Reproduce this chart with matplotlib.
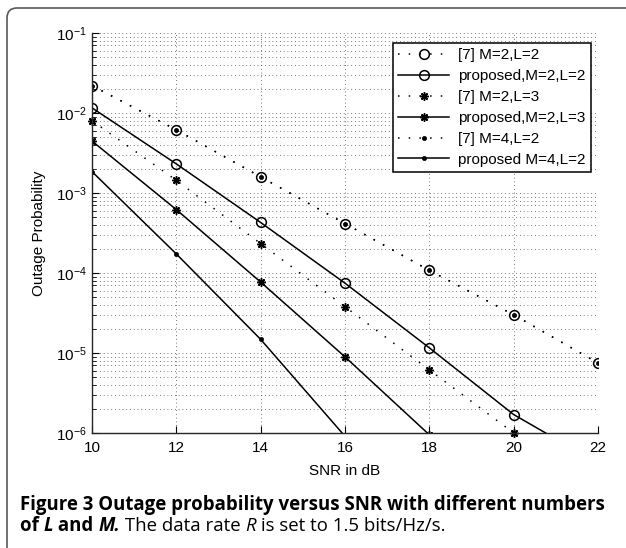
import matplotlib
matplotlib.use("Agg")
import matplotlib.pyplot as plt
import numpy as np
from matplotlib.patches import FancyBboxPatch
from matplotlib.transforms import IdentityTransform
from matplotlib.ticker import LogLocator, NullFormatter, FixedLocator

# ---------------- data ----------------
snr = [10, 12, 14, 16, 18, 20, 22]
ref_m2l2 = [2.2e-2, 6.15e-3, 1.59e-3, 4.15e-4, 1.08e-4, 3.0e-5, 7.5e-6]
prop_m2l2 = [1.16e-2, 2.31e-3, 4.28e-4, 7.46e-5, 1.16e-5, 1.7e-6, 4.2e-7]
snr_ref_m2l3 = [10, 12, 14, 16, 18, 20]
ref_m2l3 = [8.0e-3, 1.44e-3, 2.33e-4, 3.79e-5, 6.15e-6, 1.0e-6]
snr_prop_m2l3 = [10, 12, 14, 16, 18]
prop_m2l3 = [4.46e-3, 6.2e-4, 7.7e-5, 8.95e-6, 9.5e-7]
ref_m4l2 = ref_m2l2
snr_prop_m4l2 = [10, 12, 14, 16]
prop_m4l2 = [1.85e-3, 1.73e-4, 1.48e-5, 9.1e-7]

labels = ["[7] M=2,L=2", "proposed,M=2,L=2", "[7] M=2,L=3",
          "proposed,M=2,L=3", "[7] M=4,L=2", "proposed M=4,L=2"]
xticks = [10, 12, 14, 16, 18, 20, 22]
yticks = [1e-6, 1e-5, 1e-4, 1e-3, 1e-2, 1e-1]
ytick_labels = [r"$\mathregular{10^{-6}}$", r"$\mathregular{10^{-5}}$", r"$\mathregular{10^{-4}}$",
                r"$\mathregular{10^{-3}}$", r"$\mathregular{10^{-2}}$", r"$\mathregular{10^{-1}}$"]
xlabel = "SNR in dB"
ylabel = "Outage Probability"

W, H = 626, 548
plt.rcParams["font.family"] = ["Liberation Sans", "DejaVu Sans"]
fig = plt.figure(figsize=(W / 100, H / 100), dpi=100)
ax = fig.add_axes([92 / W, 1 - 433 / H, (598 - 92) / W, (433 - 33) / H])

dot_ls = (0, (1, 6))
star = (8, 2, 0)
kw_ref = dict(color="black", lw=1.1, ls=dot_ls)
kw_prop = dict(color="black", lw=1.1, ls="-")

ax.plot(snr, ref_m2l2, marker="o", ms=7, mfc="none", mec="black", mew=1.1, label=labels[0], **kw_ref)
ax.plot(snr, prop_m2l2, marker="o", ms=7, mfc="none", mec="black", mew=1.1, label=labels[1], **kw_prop)
ax.plot(snr_ref_m2l3, ref_m2l3, marker=star, ms=6, mec="black", mew=1.1, label=labels[2], clip_on=False, **kw_ref)
ax.plot(snr_prop_m2l3, prop_m2l3, marker=star, ms=6, mec="black", mew=1.1, label=labels[3], **kw_prop)
ax.plot(snr, ref_m4l2, marker="o", ms=3.0, mfc="black", mec="black", mew=0.5, label=labels[4], **kw_ref)
ax.plot(snr_prop_m4l2, prop_m4l2, marker="o", ms=3.0, mfc="black", mec="black", mew=0.5, label=labels[5], **kw_prop)

ax.set_yscale("log")
ax.set_xlim(10, 22)
ax.set_ylim(1e-6, 1e-1)
ax.set_xticks(xticks)
ax.set_xticklabels([str(v) for v in xticks], fontsize=11)
ax.yaxis.set_major_locator(FixedLocator(yticks))
ax.set_yticklabels(ytick_labels, fontsize=11)
ax.yaxis.set_minor_locator(LogLocator(base=10, subs=np.arange(2, 10), numticks=20))
ax.yaxis.set_minor_formatter(NullFormatter())
ax.tick_params(axis="both", which="major", direction="in", length=5, width=0.8, pad=4, colors="black")
ax.tick_params(axis="y", which="minor", direction="in", length=3, width=0.6)
ax.tick_params(axis="x", pad=6)

grid_kw = dict(color="0.3", lw=0.6, ls=(0, (1, 3.5)))
ax.grid(True, which="major", axis="both", **grid_kw)
ax.grid(True, which="minor", axis="y", **grid_kw)
ax.set_axisbelow(True)

for s in ["top", "right"]:
    ax.spines[s].set_visible(False)
for s in ["left", "bottom"]:
    ax.spines[s].set_linewidth(1.0)
    ax.spines[s].set_color("0.15")

ax.set_xlabel(xlabel, fontsize=11, labelpad=6)
ax.set_ylabel(ylabel, fontsize=11, labelpad=7)

leg = ax.legend(loc="upper right", bbox_to_anchor=(0.986, 0.975), borderaxespad=0,
                fontsize=11, fancybox=False, framealpha=1, edgecolor="black",
                handlelength=3.3, handletextpad=0.6, labelspacing=0.45, borderpad=0.35)
leg.get_frame().set_linewidth(1.1)

# outer rounded frame
frame = FancyBboxPatch((7, -12), 660, 548 - 8 + 12, boxstyle="round,pad=0,rounding_size=10",
                       transform=IdentityTransform(), fill=False, edgecolor="0.35", lw=1.2)
fig.patches.append(frame)

# caption
renderer = fig.canvas.get_renderer()
cap_font = ["Open Sans", "DejaVu Sans"]

def text_width(s, size, weight="normal", style="normal"):
    t1 = fig.text(0, 0, "|" + s + "|", fontsize=size, fontweight=weight, fontstyle=style, family=cap_font)
    t2 = fig.text(0, 0, "||", fontsize=size, fontweight=weight, fontstyle=style, family=cap_font)
    w = t1.get_window_extent(renderer).width - t2.get_window_extent(renderer).width
    t1.remove(); t2.remove()
    return w

line1 = "Figure 3 Outage probability versus SNR with different numbers"
size = 12.0
w = text_width(line1, size, "bold")
size = size * 585 / w

def draw_runs(runs, x0, ybase):
    x = x0
    for s, weight, style in runs:
        fig.text(x / W, ybase / H, s, fontsize=size, fontweight=weight, fontstyle=style,
                 family=cap_font, va="baseline", ha="left", color="black")
        x += text_width(s, size, weight, style)

draw_runs([(line1, "bold", "normal")], 20, H - 510)
draw_runs([("of ", "bold", "normal"), ("L", "bold", "italic"), (" and ", "bold", "normal"),
           ("M.", "bold", "italic"), (" The data rate ", "normal", "normal"), ("R", "normal", "italic"),
           (" is set to 1.5 bits/Hz/s.", "normal", "normal")], 20, H - 531)

fig.savefig("out.png", dpi=100)
